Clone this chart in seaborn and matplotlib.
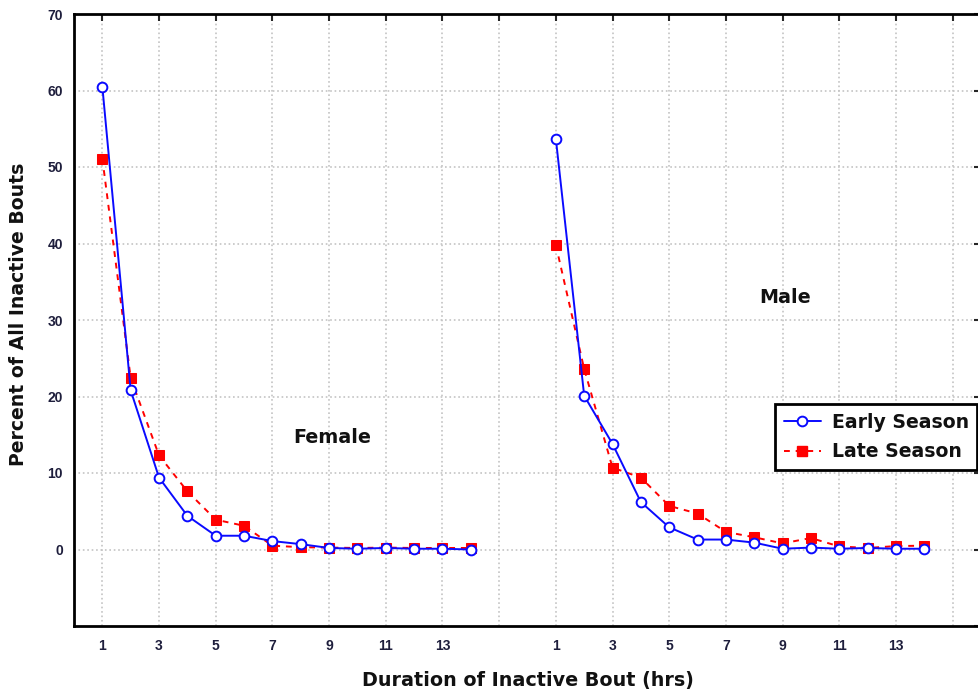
import numpy as np
import pandas as pd
import matplotlib
matplotlib.use("Agg")
import matplotlib.pyplot as plt
from matplotlib.lines import Line2D
import seaborn as sns

sns.set_style("white")
plt.rcParams['font.family'] = ['DejaVu Sans']
plt.rcParams['text.color'] = '#111111'
plt.rcParams['axes.labelcolor'] = '#111111'

# data
hours = list(range(1, 15))
female_early = [60.5, 20.8, 9.4, 4.4, 1.8, 1.8, 1.1, 0.7, 0.2, 0.1, 0.2, 0.1, 0.1, 0.0]
female_late = [51.1, 22.4, 12.3, 7.6, 3.9, 3.1, 0.5, 0.3, 0.25, 0.2, 0.25, 0.2, 0.2, 0.2]
male_early = [53.7, 20.1, 13.8, 6.2, 2.9, 1.3, 1.3, 0.9, 0.1, 0.25, 0.1, 0.2, 0.1, 0.1]
male_late = [39.8, 23.6, 10.7, 9.4, 5.7, 4.7, 2.3, 1.6, 0.8, 1.5, 0.4, 0.2, 0.45, 0.5]
tick_hours = [1, 3, 5, 7, 9, 11, 13]

MALE_OFFSET = 16

rows = []
for sex, early, late, off in [("Female", female_early, female_late, 0),
                              ("Male", male_early, male_late, MALE_OFFSET)]:
    for h, e, l in zip(hours, early, late):
        rows.append({"sex": sex, "season": "Early Season", "pos": h + off, "pct": e})
        rows.append({"sex": sex, "season": "Late Season", "pos": h + off, "pct": l})
df = pd.DataFrame(rows)

styles = {
    "Early Season": dict(color="#0a0aff", linestyle="-", marker="o", markersize=7,
                         markerfacecolor="white", markeredgecolor="#0a0aff", markeredgewidth=1.4,
                         linewidth=1.4),
    "Late Season": dict(color="#ff0000", linestyle=(0, (3, 3)), marker="s", markersize=7,
                        markerfacecolor="#ff0000", markeredgecolor="#ff0000", linewidth=1.4),
}

fig = plt.figure(figsize=(9.79, 6.98), dpi=100)
ax = fig.add_axes([74 / 979, 72 / 698, 907 / 979, 612 / 698])

for sex in ["Female", "Male"]:
    for season in ["Late Season", "Early Season"]:
        sub = df[(df.sex == sex) & (df.season == season)]
        sns.lineplot(data=sub, x="pos", y="pct", ax=ax, legend=False, **styles[season])

ax.set_xlim(0, 32)
ax.set_ylim(-10, 70)

xt = [h for h in tick_hours] + [15] + [h + MALE_OFFSET for h in tick_hours] + [31]
xl = [str(h) for h in tick_hours] + [""] + [str(h) for h in tick_hours] + [""]
ax.set_xticks(xt)
ax.set_xticklabels(xl)
ax.set_yticks(range(0, 71, 10))
ax.set_yticks([-10], minor=True)

ax.grid(True, which="major", color="#c4c4c4", linestyle=":", linewidth=1.2)
ax.tick_params(axis="both", which="both", direction="in", length=5, width=1.5,
               top=True, right=True, labelcolor="#1e1e3c")
ax.tick_params(axis="y", pad=8)
ax.tick_params(axis="x", pad=9)
tick_font = dict(family=["Liberation Sans Narrow", "Liberation Sans"], weight="bold", size=10)
for lab in ax.get_xticklabels() + ax.get_yticklabels():
    lab.set_fontproperties(tick_font)
for sp in ax.spines.values():
    sp.set_color("black")
    sp.set_linewidth(2)
    sp.set_visible(True)

ax.set_xlabel("Duration of Inactive Bout (hrs)", fontsize=13.8, fontweight="bold")
ax.set_ylabel("Percent of All Inactive Bouts", fontsize=13.6, fontweight="bold")
ax.xaxis.set_label_coords(0.5, -0.074)
ax.yaxis.set_label_coords(-0.051, 0.51)

ax.text(9.1, 14.6, "Female", fontsize=13.8, fontweight="bold", ha="center", va="center")
ax.text(25.1, 32.9, "Male", fontsize=13.8, fontweight="bold", ha="center", va="center")

handles = [Line2D([], [], **styles["Early Season"]), Line2D([], [], **styles["Late Season"])]
leg = ax.legend(handles, ["Early Season", "Late Season"], loc="upper left",
                bbox_to_anchor=(0.773, 0.362), borderaxespad=0, fancybox=False,
                framealpha=1, edgecolor="black", prop={"weight": "bold", "size": 13.6},
                handlelength=2.0, handletextpad=0.55, borderpad=0.45, labelspacing=0.55)
leg.get_frame().set_linewidth(2)

fig.savefig("out.png", dpi=100)
